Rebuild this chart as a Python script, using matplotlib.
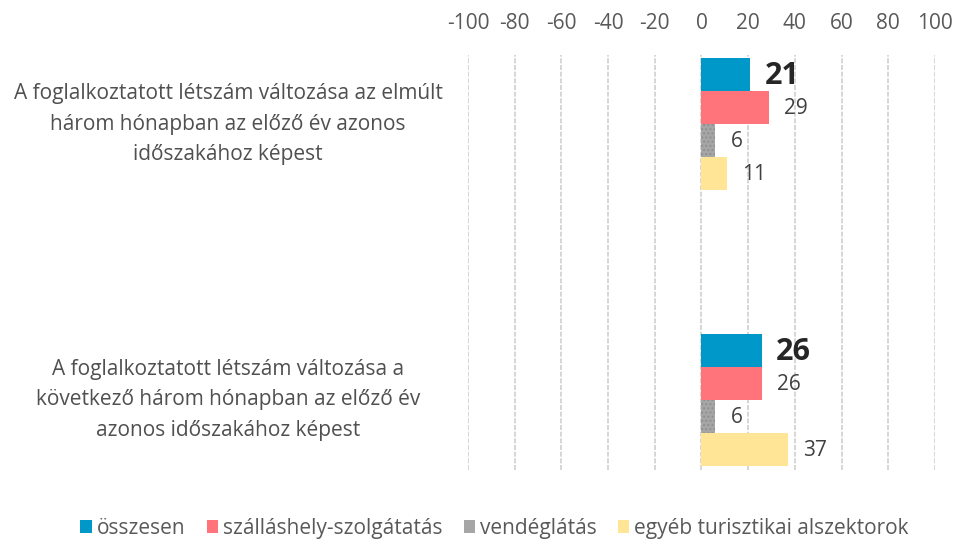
import matplotlib.pyplot as plt
from matplotlib.patches import Patch

plt.rcParams['font.family'] = ['Open Sans', 'DejaVu Sans']

categories = [
    'A foglalkoztatott létszám változása az elmúlt\nhárom hónapban az előző év azonos\nidőszakához képest',
    'A foglalkoztatott létszám változása a\nkövetkező három hónapban az előző év\nazonos időszakához képest',
]
series_names = ['összesen', 'szálláshely-szolgátatás', 'vendéglátás', 'egyéb turisztikai alszektorok']
values = [
    [21, 26],
    [29, 26],
    [6, 6],
    [11, 37],
]
ticks = [-100, -80, -60, -40, -20, 0, 20, 40, 60, 80, 100]
colors = ['#0097c9', '#ff737b', '#a6a6a6', '#ffe595']

fig = plt.figure(figsize=(9.55, 5.4), dpi=100)
ax = fig.add_axes([0.490, 0.130, 0.489, 0.768])

h = 0.12
offsets = [-1.5 * h, -0.5 * h, 0.5 * h, 1.5 * h]
for i, name in enumerate(series_names):
    ys = [c + offsets[i] for c in range(len(categories))]
    ax.barh(ys, values[i], height=h, color=colors[i], zorder=3,
            hatch='....' if i == 2 else None, edgecolor='#8f8f8f' if i == 2 else colors[i],
            linewidth=0)
    for y, v in zip(ys, values[i]):
        if i == 0:
            ax.annotate(str(v), (v, y), xytext=(14, -2), textcoords='offset pixels',
                        va='center', ha='left', fontsize=22, fontweight='bold', color='#262626')
        else:
            ax.annotate(str(v), (v, y), xytext=(15, -1), textcoords='offset pixels',
                        va='center', ha='left', fontsize=15, color='#404040')

ax.set_xlim(-100, 100)
ax.set_ylim(1.254, -0.25)
ax.set_xticks(ticks)
ax.set_xticklabels([str(t) for t in ticks])
ax.xaxis.tick_top()
ax.tick_params(axis='x', length=0, labelsize=15, labelcolor='#595959', pad=15)
ax.set_yticks([])
ax.grid(axis='x', color='#d0d0d0', linestyle=(0, (3, 1)), linewidth=1.2, zorder=0)
for s in ax.spines.values():
    s.set_visible(False)

for c, label in enumerate(categories):
    y_disp = ax.transData.transform((0, c))[1]
    y_fig = fig.transFigure.inverted().transform((0, y_disp))[1]
    fig.text(0.239, y_fig, label, ha='center', va='center', fontsize=15,
             color='#505050', linespacing=1.6)

handles = [Patch(facecolor=colors[i], label=series_names[i]) for i in range(4)]
fig.legend(handles=handles, loc='center', bbox_to_anchor=(0.518, 0.022), ncol=4,
           frameon=False, fontsize=15, handlelength=0.55, handleheight=0.55,
           handletextpad=0.25, columnspacing=1.0, labelcolor='#595959')

fig.savefig('out.png', dpi=100)
